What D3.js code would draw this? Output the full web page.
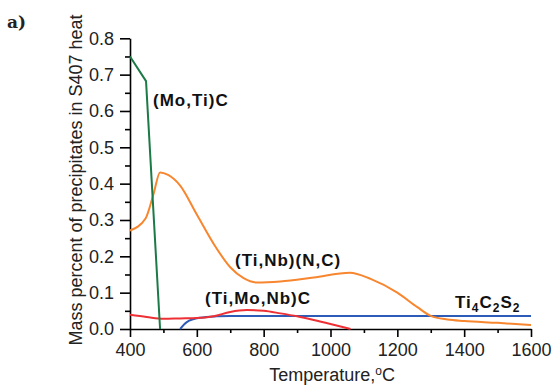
<!DOCTYPE html>
<html>
<head>
<meta charset="utf-8">
<script src="https://cdn.jsdelivr.net/npm/d3@7/dist/d3.min.js"></script>
<style>
	body { margin: 0; background: #fff; }
	svg { display: block; font-family: "Liberation Sans", Arial, sans-serif; }
</style>
</head>
<body>
<svg id="chart" width="553" height="385"></svg>
<script>
// temperatures (C) and mass percent
var moTiC = [[400, 0.750], [448, 0.682], [490, 0.0]];
var tiNbNC = [[400, 0.271], [447, 0.305], [470, 0.370], [490, 0.431], [514, 0.424], [549, 0.396], [600, 0.315],
	[650, 0.235], [700, 0.170], [740, 0.140], [780, 0.128], [850, 0.131], [950, 0.142], [1058, 0.155],
	[1120, 0.138], [1200, 0.100], [1260, 0.060], [1300, 0.036], [1350, 0.026], [1400, 0.022],
	[1500, 0.017], [1600, 0.011]];
var tiMoNbC = [[400, 0.039], [450, 0.033], [500, 0.028], [550, 0.029], [600, 0.030], [650, 0.035],
	[700, 0.047], [750, 0.052], [800, 0.050], [850, 0.043], [900, 0.035], [950, 0.025], [1000, 0.014],
	[1060, 0.0]];
var ti4C2S2 = [[550, 0.0], [570, 0.019], [610, 0.031], [660, 0.035], [700, 0.036], [1600, 0.036]];

var xTicks = [400, 600, 800, 1000, 1200, 1400, 1600];
var yTicks = [0, 0.1, 0.2, 0.3, 0.4, 0.5, 0.6, 0.7, 0.8];

var svg = d3.select("#chart");
var x = d3.scaleLinear().domain([400, 1600]).range([130, 531]);
var y = d3.scaleLinear().domain([0, 0.8]).range([329, 38.3]);

// minor ticks
svg.append("g")
	.attr("transform", "translate(0,329)")
	.call(d3.axisBottom(x).tickValues(d3.range(500, 1600, 200)).tickSize(4).tickFormat(""))
	.call(function (g) { g.select(".domain").remove(); });
svg.append("g")
	.attr("transform", "translate(130,0)")
	.call(d3.axisLeft(y).tickValues(d3.range(0.05, 0.8, 0.1)).tickSize(5).tickFormat(""))
	.call(function (g) { g.select(".domain").remove(); });

// major axes
var xAxis = svg.append("g")
	.attr("transform", "translate(0,329)")
	.call(d3.axisBottom(x).tickValues(xTicks).tickSize(8).tickSizeOuter(0).tickPadding(6)
		.tickFormat(d3.format("d")));
var yAxis = svg.append("g")
	.attr("transform", "translate(130,0)")
	.call(d3.axisLeft(y).tickValues(yTicks).tickSize(10).tickSizeOuter(0).tickPadding(6)
		.tickFormat(d3.format(".1f")));

svg.selectAll(".tick line, .domain").attr("stroke", "#000").attr("stroke-width", 1.6);
svg.selectAll("g").attr("font-family", null);
xAxis.selectAll("text").attr("font-size", 18).attr("fill", "#222");
yAxis.selectAll("text").attr("font-size", 18).attr("fill", "#222");

var line = d3.line().x(function (d) { return x(d[0]); }).y(function (d) { return y(d[1]); });
var smooth = d3.line().x(function (d) { return x(d[0]); }).y(function (d) { return y(d[1]); })
	.curve(d3.curveMonotoneX);

function drawSeries(data, color, gen) {
	svg.append("path")
		.datum(data)
		.attr("fill", "none")
		.attr("stroke", color)
		.attr("stroke-width", 2)
		.attr("d", gen);
}

drawSeries(ti4C2S2, "#2c5cb8", smooth);
drawSeries(tiMoNbC, "#ee3035", smooth);
drawSeries(tiNbNC, "#f7862f", smooth);
drawSeries(moTiC, "#1b7a46", line);

// labels
function label(txt, px, py) {
	return svg.append("text")
		.attr("x", px).attr("y", py)
		.attr("font-size", 17).attr("font-weight", "bold")
		.attr("letter-spacing", 1).attr("fill", "#111")
		.text(txt);
}
label("(Mo,Ti)C", 153, 106);
label("(Ti,Nb)(N,C)", 235, 266);
label("(Ti,Mo,Nb)C", 205, 304);
var t = label("Ti", 455, 308);
t.append("tspan").attr("font-size", 12).attr("dy", 4).text("4");
t.append("tspan").attr("dy", -4).text("C");
t.append("tspan").attr("font-size", 12).attr("dy", 4).text("2");
t.append("tspan").attr("dy", -4).text("S");
t.append("tspan").attr("font-size", 12).attr("dy", 4).text("2");

// axis titles
var xt = svg.append("text")
	.attr("x", 332).attr("y", 381)
	.attr("text-anchor", "middle")
	.attr("font-size", 18).attr("fill", "#222")
	.text("Temperature,");
xt.append("tspan").attr("font-size", 12).attr("dy", -6).text("o");
xt.append("tspan").attr("dy", 6).text("C");

svg.append("text")
	.attr("transform", "translate(82,180) rotate(-90)")
	.attr("text-anchor", "middle")
	.attr("font-size", 18).attr("fill", "#222")
	.text("Mass percent of precipitates in S407 heat");

svg.append("text")
	.attr("x", 7).attr("y", 28)
	.style("font-family", "'DejaVu Serif', 'Liberation Serif', serif")
	.attr("font-size", 17).attr("font-weight", "bold")
	.attr("fill", "#222")
	.text("a)");
</script>
</body>
</html>
